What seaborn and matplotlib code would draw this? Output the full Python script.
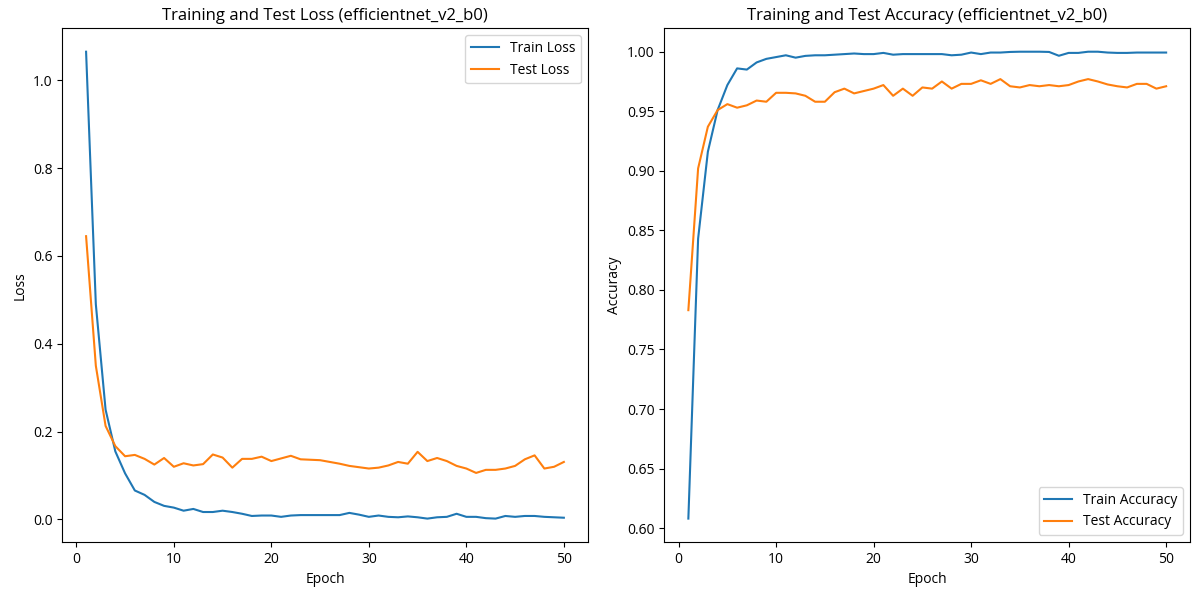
import seaborn as sns
import matplotlib.pyplot as plt

plt.rcParams['font.family'] = ['Open Sans', 'DejaVu Sans']

epochs = list(range(1, 51))

train_loss = [1.065, 0.49, 0.25, 0.155, 0.105, 0.066, 0.056, 0.040, 0.031, 0.027,
              0.020, 0.024, 0.017, 0.017, 0.020, 0.017, 0.013, 0.008, 0.009, 0.009,
              0.006, 0.009, 0.010, 0.010, 0.010, 0.010, 0.010, 0.015, 0.011, 0.006,
              0.009, 0.006, 0.005, 0.007, 0.005, 0.002, 0.005, 0.006, 0.013, 0.006,
              0.006, 0.003, 0.002, 0.008, 0.006, 0.008, 0.008, 0.006, 0.005, 0.004]

test_loss = [0.645, 0.35, 0.213, 0.167, 0.144, 0.147, 0.138, 0.125, 0.140, 0.120,
             0.128, 0.123, 0.126, 0.148, 0.141, 0.118, 0.138, 0.138, 0.143, 0.133,
             0.139, 0.145, 0.137, 0.136, 0.135, 0.131, 0.127, 0.122, 0.119, 0.116,
             0.118, 0.123, 0.131, 0.127, 0.154, 0.133, 0.140, 0.133, 0.122, 0.116,
             0.106, 0.113, 0.113, 0.116, 0.122, 0.137, 0.146, 0.116, 0.120, 0.131]

train_acc = [0.608, 0.843, 0.916, 0.951, 0.972, 0.986, 0.985, 0.991, 0.994, 0.9955,
             0.997, 0.995, 0.9965, 0.997, 0.997, 0.9975, 0.998, 0.9985, 0.998, 0.998,
             0.999, 0.9975, 0.998, 0.998, 0.998, 0.998, 0.998, 0.997, 0.9975, 0.9993,
             0.998, 0.9993, 0.9993, 0.9998, 1.0, 1.0, 1.0, 0.9998, 0.9966, 0.999,
             0.999, 1.0, 1.0, 0.9993, 0.999, 0.999, 0.9993, 0.9993, 0.9993, 0.9993]

test_acc = [0.783, 0.902, 0.937, 0.951, 0.956, 0.953, 0.955, 0.959, 0.958, 0.9655,
            0.9655, 0.965, 0.963, 0.958, 0.958, 0.966, 0.969, 0.965, 0.967, 0.969,
            0.972, 0.963, 0.969, 0.963, 0.970, 0.969, 0.975, 0.969, 0.973, 0.973,
            0.976, 0.973, 0.977, 0.971, 0.970, 0.972, 0.971, 0.972, 0.971, 0.972,
            0.975, 0.977, 0.975, 0.9725, 0.971, 0.970, 0.973, 0.973, 0.969, 0.971]

model_name = "efficientnet_v2_b0"

fig, (ax1, ax2) = plt.subplots(1, 2, figsize=(11.96, 5.91), dpi=100)
fig.subplots_adjust(left=0.052, right=0.995, top=0.952, bottom=0.083, wspace=0.146)

# loss
sns.lineplot(x=epochs, y=train_loss, label='Train Loss', color='tab:blue', ax=ax1)
sns.lineplot(x=epochs, y=test_loss, label='Test Loss', color='tab:orange', ax=ax1)
ax1.set_xlabel('Epoch')
ax1.set_ylabel('Loss')
ax1.set_title(f'Training and Test Loss ({model_name})')
ax1.legend(loc='upper right')

# accuracy
sns.lineplot(x=epochs, y=train_acc, label='Train Accuracy', color='tab:blue', ax=ax2)
sns.lineplot(x=epochs, y=test_acc, label='Test Accuracy', color='tab:orange', ax=ax2)
ax2.set_xlabel('Epoch')
ax2.set_ylabel('Accuracy')
ax2.set_title(f'Training and Test Accuracy ({model_name})')
ax2.legend(loc='lower right')

plt.savefig("out.png", dpi=100)
plt.close()
